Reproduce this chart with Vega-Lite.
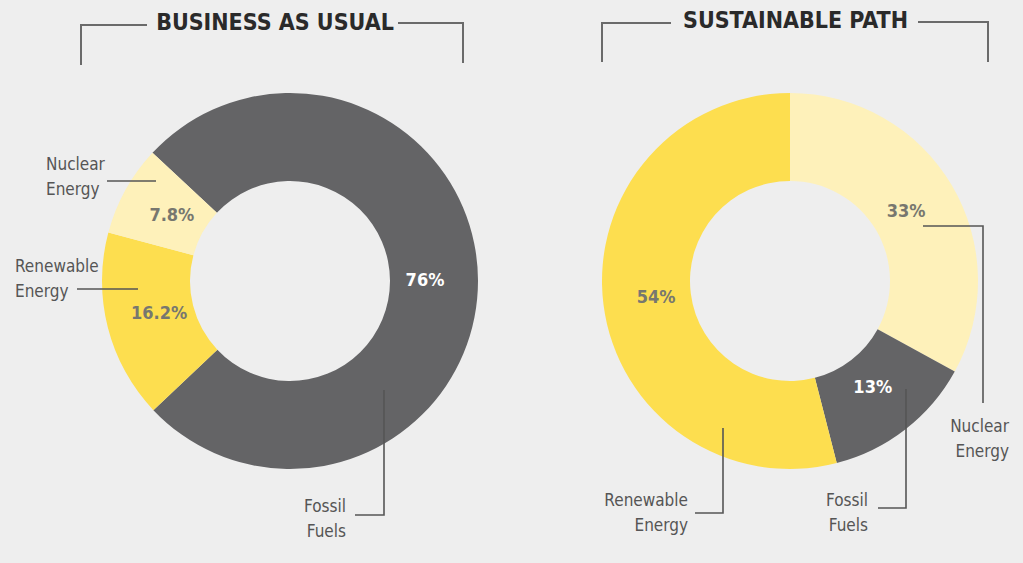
{
  "$schema": "https://vega.github.io/schema/vega-lite/v6.json",
  "width": 1023,
  "height": 563,
  "autosize": {"type": "fit", "contains": "padding"},
  "padding": 0,
  "background": "#eeeeee",
  "config": {"view": {"stroke": null}},
  "datasets": {
    "shares": [
      {"chart": "BUSINESS AS USUAL", "category": "Fossil Fuels", "value": 76, "rank": 1},
      {"chart": "BUSINESS AS USUAL", "category": "Renewable Energy", "value": 16.2, "rank": 2},
      {"chart": "BUSINESS AS USUAL", "category": "Nuclear Energy", "value": 7.8, "rank": 3},
      {"chart": "SUSTAINABLE PATH", "category": "Nuclear Energy", "value": 33, "rank": 1},
      {"chart": "SUSTAINABLE PATH", "category": "Fossil Fuels", "value": 13, "rank": 2},
      {"chart": "SUSTAINABLE PATH", "category": "Renewable Energy", "value": 54, "rank": 3}
    ],
    "lines": [
      {"kind": "bracket", "id": "bl1", "seq": 1, "x": 81, "y": 64},
      {"kind": "bracket", "id": "bl1", "seq": 2, "x": 81, "y": 25},
      {"kind": "bracket", "id": "bl1", "seq": 3, "x": 146, "y": 25},
      {"kind": "bracket", "id": "bl2", "seq": 1, "x": 399, "y": 23},
      {"kind": "bracket", "id": "bl2", "seq": 2, "x": 463, "y": 23},
      {"kind": "bracket", "id": "bl2", "seq": 3, "x": 463, "y": 62},
      {"kind": "bracket", "id": "br1", "seq": 1, "x": 602, "y": 61},
      {"kind": "bracket", "id": "br1", "seq": 2, "x": 602, "y": 23},
      {"kind": "bracket", "id": "br1", "seq": 3, "x": 670, "y": 23},
      {"kind": "bracket", "id": "br2", "seq": 1, "x": 919, "y": 22},
      {"kind": "bracket", "id": "br2", "seq": 2, "x": 988, "y": 22},
      {"kind": "bracket", "id": "br2", "seq": 3, "x": 988, "y": 61},
      {"kind": "leader", "id": "ln", "seq": 1, "x": 107, "y": 181},
      {"kind": "leader", "id": "ln", "seq": 2, "x": 156, "y": 181},
      {"kind": "leader", "id": "lr", "seq": 1, "x": 77, "y": 289},
      {"kind": "leader", "id": "lr", "seq": 2, "x": 138, "y": 289},
      {"kind": "leader", "id": "lf", "seq": 1, "x": 355, "y": 515},
      {"kind": "leader", "id": "lf", "seq": 2, "x": 384, "y": 515},
      {"kind": "leader", "id": "lf", "seq": 3, "x": 384, "y": 390},
      {"kind": "leader", "id": "rr", "seq": 1, "x": 695, "y": 513},
      {"kind": "leader", "id": "rr", "seq": 2, "x": 723, "y": 513},
      {"kind": "leader", "id": "rr", "seq": 3, "x": 723, "y": 428},
      {"kind": "leader", "id": "rf", "seq": 1, "x": 878, "y": 508},
      {"kind": "leader", "id": "rf", "seq": 2, "x": 906, "y": 508},
      {"kind": "leader", "id": "rf", "seq": 3, "x": 906, "y": 389},
      {"kind": "leader", "id": "rn", "seq": 1, "x": 923, "y": 226},
      {"kind": "leader", "id": "rn", "seq": 2, "x": 983, "y": 226},
      {"kind": "leader", "id": "rn", "seq": 3, "x": 983, "y": 403}
    ],
    "labels": [
      {"text": "Nuclear\nEnergy", "x": 46, "y": 170, "side": "left"},
      {"text": "Renewable\nEnergy", "x": 15, "y": 272, "side": "left"},
      {"text": "Fossil\nFuels", "x": 346, "y": 512, "side": "right"},
      {"text": "Renewable\nEnergy", "x": 688, "y": 506, "side": "right"},
      {"text": "Fossil\nFuels", "x": 868, "y": 506, "side": "right"},
      {"text": "Nuclear\nEnergy", "x": 1009, "y": 432, "side": "right"}
    ],
    "titles": [
      {"text": "BUSINESS AS USUAL", "x": 275, "y": 23},
      {"text": "SUSTAINABLE PATH", "x": 795.5, "y": 21}
    ]
  },
  "layer": [
    {
      "data": {"name": "shares"},
      "transform": [
        {"filter": "datum.chart === 'BUSINESS AS USUAL'"},
        {"calculate": "datum.value + '%'", "as": "label"}
      ],
      "encoding": {
        "x": {"datum": 290, "type": "quantitative", "scale": {"domain": [0, 1023], "nice": false, "zero": false}, "axis": null},
        "y": {"datum": 281, "type": "quantitative", "scale": {"domain": [0, 563], "nice": false, "zero": false, "reverse": true}, "axis": null},
        "theta": {"field": "value", "type": "quantitative", "stack": true, "scale": {"domain": [0, 100], "range": [5.4629, 11.7461]}},
        "order": {"field": "rank", "type": "quantitative"}
      },
      "layer": [
        {
          "mark": {"type": "arc", "innerRadius": 100, "outerRadius": 188},
          "encoding": {
            "color": {"field": "category", "type": "nominal", "legend": null,
              "scale": {"domain": ["Fossil Fuels", "Renewable Energy", "Nuclear Energy"], "range": ["#646466", "#FDDE4F", "#FEF1BA"]}}
          }
        },
        {
          "mark": {"type": "text", "radius": 135, "fontWeight": "bold", "fontSize": 18, "font": "DejaVu Sans Condensed, sans-serif"},
          "encoding": {
            "text": {"field": "label"},
            "detail": {"field": "category"},
            "color": {"condition": {"test": "datum.category === 'Fossil Fuels'", "value": "#ffffff"}, "value": "#77776f"}
          }
        }
      ]
    },
    {
      "data": {"name": "shares"},
      "transform": [
        {"filter": "datum.chart === 'SUSTAINABLE PATH'"},
        {"calculate": "datum.value + '%'", "as": "label"}
      ],
      "encoding": {
        "x": {"datum": 790, "type": "quantitative", "axis": null},
        "y": {"datum": 281, "type": "quantitative", "axis": null},
        "theta": {"field": "value", "type": "quantitative", "stack": true, "scale": {"domain": [0, 100], "range": [0, 6.2832]}},
        "order": {"field": "rank", "type": "quantitative"}
      },
      "layer": [
        {
          "mark": {"type": "arc", "innerRadius": 100, "outerRadius": 188},
          "encoding": {
            "color": {"field": "category", "type": "nominal", "legend": null}
          }
        },
        {
          "mark": {"type": "text", "radius": 135, "fontWeight": "bold", "fontSize": 18, "font": "DejaVu Sans Condensed, sans-serif"},
          "encoding": {
            "text": {"field": "label"},
            "detail": {"field": "category"},
            "color": {"condition": {"test": "datum.category === 'Fossil Fuels'", "value": "#ffffff"}, "value": "#77776f"}
          }
        }
      ]
    },
    {
      "data": {"name": "lines"},
      "transform": [{"filter": "datum.kind === 'bracket'"}],
      "mark": {"type": "line", "color": "#6a6a6a", "strokeWidth": 2, "strokeCap": "square"},
      "encoding": {
        "x": {"field": "x", "type": "quantitative", "axis": null},
        "y": {"field": "y", "type": "quantitative", "axis": null},
        "detail": {"field": "id"},
        "order": {"field": "seq", "type": "quantitative"}
      }
    },
    {
      "data": {"name": "lines"},
      "transform": [{"filter": "datum.kind === 'leader'"}],
      "mark": {"type": "line", "color": "#555555", "strokeWidth": 1.6},
      "encoding": {
        "x": {"field": "x", "type": "quantitative", "axis": null},
        "y": {"field": "y", "type": "quantitative", "axis": null},
        "detail": {"field": "id"},
        "order": {"field": "seq", "type": "quantitative"}
      }
    },
    {
      "data": {"name": "labels"},
      "transform": [{"filter": "datum.side === 'left'"}],
      "mark": {"type": "text", "align": "left", "baseline": "alphabetic", "lineBreak": "\n", "lineHeight": 24.5, "fontSize": 17, "color": "#555555", "font": "DejaVu Sans Condensed, sans-serif"},
      "encoding": {
        "x": {"field": "x", "type": "quantitative", "axis": null},
        "y": {"field": "y", "type": "quantitative", "axis": null},
        "text": {"field": "text"}
      }
    },
    {
      "data": {"name": "labels"},
      "transform": [{"filter": "datum.side === 'right'"}],
      "mark": {"type": "text", "align": "right", "baseline": "alphabetic", "lineBreak": "\n", "lineHeight": 24.5, "fontSize": 17, "color": "#555555", "font": "DejaVu Sans Condensed, sans-serif"},
      "encoding": {
        "x": {"field": "x", "type": "quantitative", "axis": null},
        "y": {"field": "y", "type": "quantitative", "axis": null},
        "text": {"field": "text"}
      }
    },
    {
      "data": {"name": "titles"},
      "mark": {"type": "text", "align": "center", "baseline": "middle", "fontSize": 23, "fontWeight": "bold", "color": "#2a2a2a", "font": "DejaVu Sans Condensed, sans-serif"},
      "encoding": {
        "x": {"field": "x", "type": "quantitative", "axis": null},
        "y": {"field": "y", "type": "quantitative", "axis": null},
        "text": {"field": "text"}
      }
    }
  ],
  "resolve": {"scale": {"theta": "independent"}}
}
